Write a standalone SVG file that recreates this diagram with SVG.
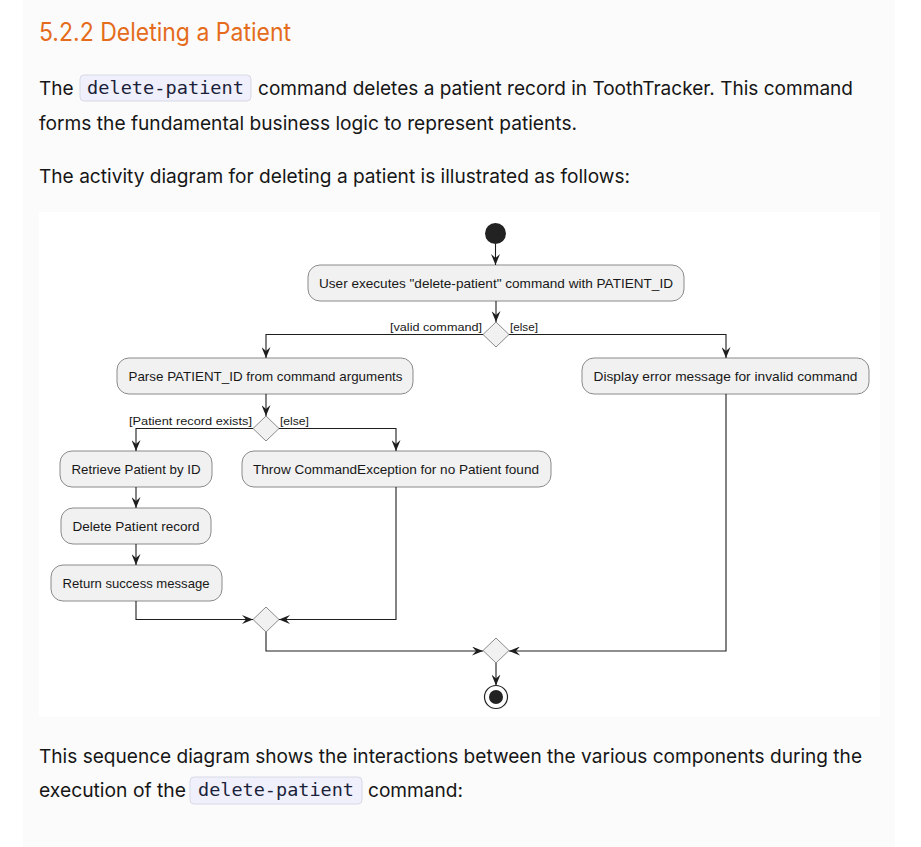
<svg xmlns="http://www.w3.org/2000/svg" width="921" height="847" viewBox="0 0 921 847">
<style>
.body{font-family:Inter,"Noto Sans","Liberation Sans",sans-serif;font-size:19px;fill:#161616}
.title{font-family:Inter,"Noto Sans","Liberation Sans",sans-serif;font-size:25px;fill:#e46c1c}
.code{font-family:"DejaVu Sans Mono","Liberation Mono",monospace;font-size:17.5px;fill:#1b1f3a}
.codebox{fill:#eff0fb;stroke:#d8d9e6;stroke-width:1}
.node rect{fill:#f1f1f1;stroke:#8a8a8a;stroke-width:1}
.node text{font-family:"Liberation Sans",Arial,sans-serif;font-size:13px;fill:#181818;text-anchor:middle}
.dia{fill:#f1f1f1;stroke:#8a8a8a;stroke-width:1}
.lbl{font-family:"Liberation Sans",Arial,sans-serif;font-size:11.5px;fill:#181818}
.conn path{fill:none;stroke:#1e1e1e;stroke-width:1.1}
</style>
<defs>
<marker id="arr" viewBox="0 0 11 9" refX="11" refY="4.5" markerWidth="11" markerHeight="9" markerUnits="userSpaceOnUse" orient="auto">
<path d="M0,0 L11,4.5 L0,9 L4,4.5 Z" fill="#1e1e1e"/>
</marker>
</defs>
<rect width="921" height="847" fill="#ffffff"/>
<rect x="23" y="0" width="872" height="847" fill="#fbfbfb"/>
<g id="header">
<text class="title" x="39" y="41" textLength="252" lengthAdjust="spacingAndGlyphs">5.2.2 Deleting a Patient</text>
<text class="body" x="39" y="95">The</text>
<rect class="codebox" x="80" y="75" width="171" height="26" rx="4"/>
<text class="code" x="87" y="94" textLength="157" lengthAdjust="spacingAndGlyphs">delete-patient</text>
<text class="body" x="258" y="95" textLength="595" lengthAdjust="spacingAndGlyphs">command deletes a patient record in ToothTracker. This command</text>
<text class="body" x="39" y="130" textLength="538" lengthAdjust="spacingAndGlyphs">forms the fundamental business logic to represent patients.</text>
<text class="body" x="39" y="183" textLength="591" lengthAdjust="spacingAndGlyphs">The activity diagram for deleting a patient is illustrated as follows:</text>
</g>
<rect x="39" y="212" width="841" height="505" fill="#ffffff"/>
<g id="start"><circle cx="495.5" cy="233.5" r="10.5" fill="#222"/></g>
<g id="n_user" class="node"><rect x="308" y="265" width="376" height="36" rx="12"/><text x="496" y="287.5" textLength="354" lengthAdjust="spacingAndGlyphs">User executes "delete-patient" command with PATIENT_ID</text></g>
<g id="d_valid"><polygon class="dia" points="496,322 509,334.5 496,347 483,334.5"/>
<text class="lbl" x="482" y="331" text-anchor="end" textLength="92" lengthAdjust="spacingAndGlyphs">[valid command]</text>
<text class="lbl" x="510" y="331" textLength="28" lengthAdjust="spacingAndGlyphs">[else]</text></g>
<g id="n_parse" class="node"><rect x="117" y="358" width="296" height="36" rx="12"/><text x="265.5" y="380.5" textLength="274" lengthAdjust="spacingAndGlyphs">Parse PATIENT_ID from command arguments</text></g>
<g id="n_display" class="node"><rect x="582" y="358" width="287" height="36" rx="12"/><text x="725.5" y="380.5" textLength="264" lengthAdjust="spacingAndGlyphs">Display error message for invalid command</text></g>
<g id="d_exists"><polygon class="dia" points="266,416 279,428.5 266,441 253,428.5"/>
<text class="lbl" x="252" y="425" text-anchor="end" textLength="123" lengthAdjust="spacingAndGlyphs">[Patient record exists]</text>
<text class="lbl" x="280" y="425" textLength="29" lengthAdjust="spacingAndGlyphs">[else]</text></g>
<g id="n_retrieve" class="node"><rect x="60" y="451" width="152" height="36" rx="12"/><text x="136" y="473.5" textLength="129" lengthAdjust="spacingAndGlyphs">Retrieve Patient by ID</text></g>
<g id="n_throw" class="node"><rect x="242" y="451" width="309" height="36" rx="12"/><text x="396" y="473.5" textLength="286" lengthAdjust="spacingAndGlyphs">Throw CommandException for no Patient found</text></g>
<g id="n_delete" class="node"><rect x="61" y="508" width="150" height="36" rx="12"/><text x="136" y="530.5" textLength="127" lengthAdjust="spacingAndGlyphs">Delete Patient record</text></g>
<g id="n_return" class="node"><rect x="51" y="565" width="171" height="36" rx="12"/><text x="136" y="587.5" textLength="147" lengthAdjust="spacingAndGlyphs">Return success message</text></g>
<g id="m_inner"><polygon class="dia" points="266,607 279,619.5 266,632 253,619.5"/></g>
<g id="m_outer"><polygon class="dia" points="496,638 509,650.5 496,663 483,650.5"/></g>
<g id="end"><circle cx="496" cy="697" r="11.5" fill="#ffffff" stroke="#222" stroke-width="1.2"/><circle cx="496" cy="697" r="7" fill="#222"/></g>
<g id="connectors" class="conn">
<path d="M495.5,244 L495.5,265" marker-end="url(#arr)"/>
<path d="M496,301 L496,322" marker-end="url(#arr)"/>
<path d="M483,334.5 L266,334.5 L266,358" marker-end="url(#arr)"/>
<path d="M509,334.5 L726,334.5 L726,358" marker-end="url(#arr)"/>
<path d="M266,394 L266,416" marker-end="url(#arr)"/>
<path d="M253,428.5 L136,428.5 L136,451" marker-end="url(#arr)"/>
<path d="M279,428.5 L396,428.5 L396,451" marker-end="url(#arr)"/>
<path d="M136,487 L136,508" marker-end="url(#arr)"/>
<path d="M136,544 L136,565" marker-end="url(#arr)"/>
<path d="M136,601 L136,619.5 L253,619.5" marker-end="url(#arr)"/>
<path d="M396,487 L396,619.5 L279,619.5" marker-end="url(#arr)"/>
<path d="M266,632 L266,651 L483,651" marker-end="url(#arr)"/>
<path d="M726,394 L726,651 L509,651" marker-end="url(#arr)"/>
<path d="M496,663 L496,685.5" marker-end="url(#arr)"/>
</g>
<g id="footer">
<text class="body" x="39" y="763" textLength="823" lengthAdjust="spacingAndGlyphs">This sequence diagram shows the interactions between the various components during the</text>
<text class="body" x="39" y="797" textLength="147" lengthAdjust="spacingAndGlyphs">execution of the</text>
<rect class="codebox" x="190" y="777" width="172" height="27" rx="4"/>
<text class="code" x="198" y="796" textLength="156" lengthAdjust="spacingAndGlyphs">delete-patient</text>
<text class="body" x="368" y="797" textLength="95" lengthAdjust="spacingAndGlyphs">command:</text>
</g>
</svg>
